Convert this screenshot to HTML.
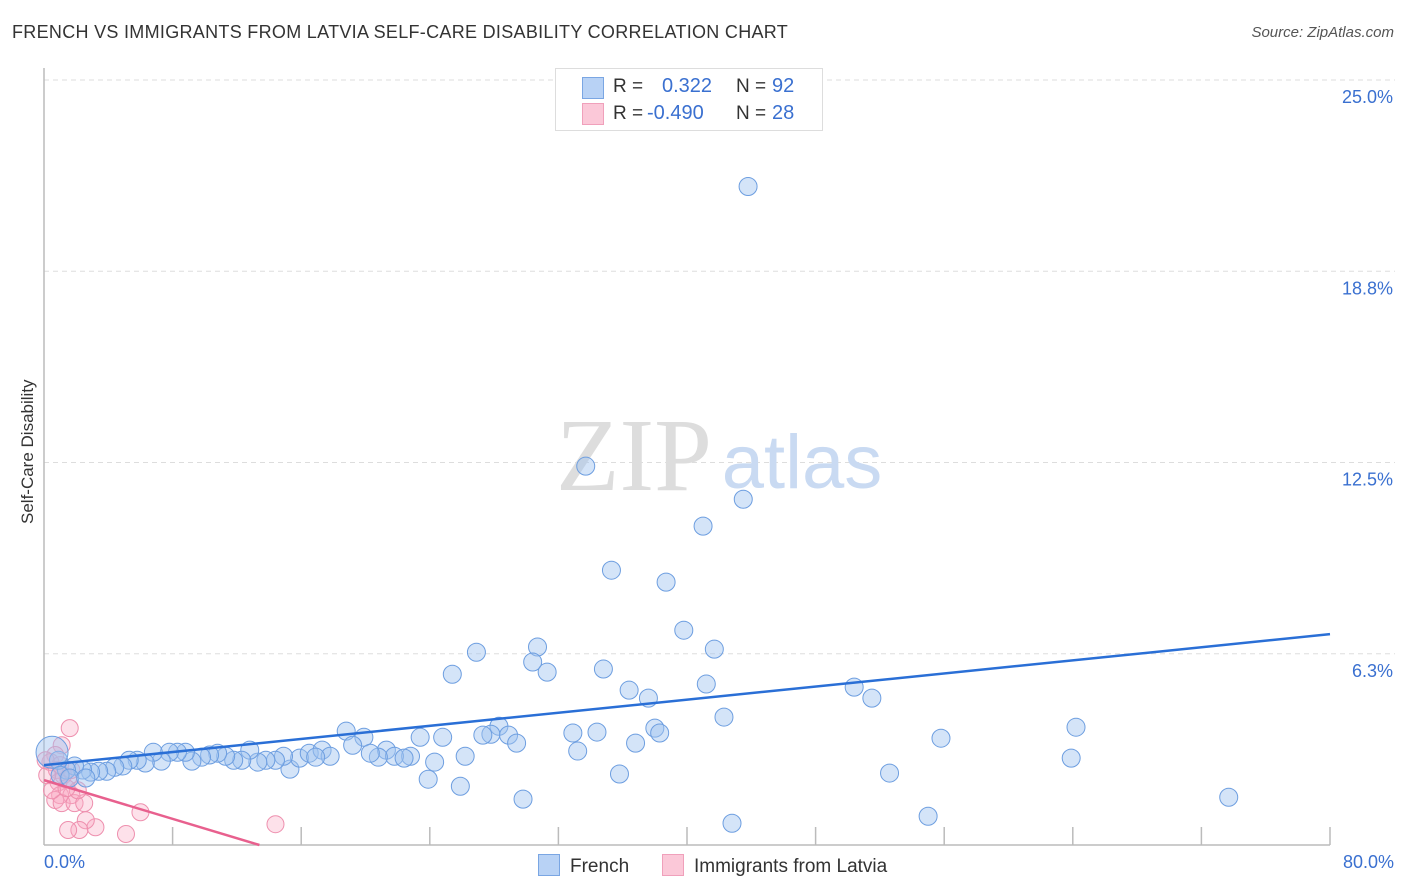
<!DOCTYPE html>
<html><head><meta charset="utf-8">
<style>
body{margin:0;background:#fff;font-family:"Liberation Sans",sans-serif;}
#wrap{position:relative;width:1406px;height:892px;overflow:hidden;}
.t{position:absolute;white-space:nowrap;}
</style></head>
<body><div id="wrap">
<div class="t" style="left:12px;top:22px;font-size:18px;color:#333;letter-spacing:0.3px;">FRENCH VS IMMIGRANTS FROM LATVIA SELF-CARE DISABILITY CORRELATION CHART</div>
<div class="t" style="right:12px;top:24px;font-size:15px;color:#555;font-style:italic;">Source: ZipAtlas.com</div>
<svg id="svg" width="1406" height="892" style="position:absolute;left:0;top:0"></svg>
</div>
<script>
const yTicks=[25,18.75,12.5,6.25];
const yTickLabels=["25.0%","18.8%","12.5%","6.3%"];
const xTickVals=[8,16,24,32,40,48,56,64,72,80];
const frenchX=[43.8,33.7,43.5,41.0,35.3,38.7,39.8,30.7,26.9,41.7,30.4,34.8,31.3,25.4,36.4,41.2,37.6,50.4,51.5,42.3,64.2,38.0,38.3,32.9,34.4,28.3,27.8,27.3,28.9,29.4,24.8,23.4,18.8,19.9,19.2,55.8,36.8,33.2,26.2,63.9,24.3,22.8,21.3,21.8,22.4,20.8,20.3,35.8,52.6,23.9,25.9,29.8,73.7,55.0,42.8,15.3,15.9,16.5,17.3,17.8,16.9,14.9,14.4,13.8,13.3,12.8,12.3,11.8,11.3,10.8,10.3,9.8,9.2,8.8,8.3,7.8,7.3,6.8,6.3,5.8,5.3,4.9,4.4,3.9,3.4,2.9,2.4,1.9,1.4,0.9,0.5,1.0,1.6,2.6];
const frenchY=[21.52,12.38,11.30,10.42,8.98,8.59,7.02,6.47,6.30,6.40,5.98,5.75,5.65,5.58,5.06,5.26,4.80,5.16,4.80,4.18,3.85,3.82,3.66,3.66,3.69,3.88,3.62,3.59,3.59,3.33,3.52,3.52,3.72,3.52,3.26,3.49,3.33,3.07,2.90,2.84,2.71,2.90,3.10,2.90,2.84,2.87,3.00,2.32,2.35,2.15,1.92,1.50,1.56,0.94,0.71,2.48,2.84,3.00,3.10,2.90,2.87,2.90,2.77,2.77,2.71,3.10,2.77,2.77,2.90,3.00,2.94,2.87,2.74,3.03,3.03,3.03,2.74,3.03,2.68,2.77,2.77,2.58,2.54,2.41,2.41,2.38,2.45,2.58,2.45,2.77,3.03,2.28,2.19,2.19];
const latviaX=[1.6,1.1,0.7,0.4,0.8,1.2,1.5,0.9,1.0,1.7,0.7,1.1,1.9,2.5,2.1,6.0,3.2,2.6,2.2,1.5,5.1,14.4,0.2,0.5,1.4,1.0,1.7,0.1];
const latviaY=[3.82,3.26,2.94,2.71,2.45,2.28,2.19,2.05,1.63,1.63,1.47,1.37,1.37,1.37,1.79,1.07,0.58,0.81,0.49,0.49,0.36,0.68,2.28,1.79,1.86,2.61,2.45,2.77];
const frenchTrend=[2.61,6.89];
const latviaTrend=[2.12,0.0];
const X0=44,X1=1330,Y0=845;
const xs=v=>X0+v*(X1-X0)/80;
const ys=v=>Y0-v*30.6;
const svg=document.getElementById('svg');
const NS='http://www.w3.org/2000/svg';
function mk(tag,attrs){const e=document.createElementNS(NS,tag);for(const k in attrs)e.setAttribute(k,attrs[k]);svg.appendChild(e);return e;}
yTicks.forEach((v,i)=>{
 const g=mk('line',{x1:X0,x2:1395,y1:ys(v),y2:ys(v),stroke:'#ddd','stroke-dasharray':'5,4'});
 
 
 const t=mk('text',{x:1393,y:ys(v)+23,'text-anchor':'end','font-size':18,fill:'#3a70d0'});
 t.textContent=yTickLabels[i];
 
 
});
const wz=mk('text',{x:634,y:490,'text-anchor':'middle','font-size':104,fill:'#ddd','font-family':'Liberation Serif'});wz.textContent='ZIP';


const wa=mk('text',{x:802,y:488,'text-anchor':'middle','font-size':76,fill:'#c9daf2'});wa.textContent='atlas';


const ax=mk('line',{x1:X0,x2:X1,y1:Y0,y2:Y0,stroke:'#bbb','stroke-width':1.5});


const ay=mk('line',{x1:X0,x2:X0,y1:68,y2:Y0,stroke:'#bbb','stroke-width':1.5});


xTickVals.forEach(v=>{const l=mk('line',{x1:xs(v),x2:xs(v),y1:Y0,y2:Y0-18,stroke:'#bbb','stroke-width':1.5});
 
 });
latviaX.forEach((v,i)=>{const c=mk('circle',{cx:xs(v),cy:ys(latviaY[i]),r:8.5,fill:'rgba(248,170,195,0.35)',stroke:'#ee8fae','stroke-width':1});
 
 });
frenchX.forEach((v,i)=>{const c=mk('circle',{cx:xs(v),cy:ys(frenchY[i]),r:i==90?16:9,fill:'rgba(160,195,240,0.45)',stroke:'#6d9ee0','stroke-width':1});
 
 });
const fl=mk('line',{x1:xs(0),y1:ys(frenchTrend[0]),x2:xs(80),y2:ys(frenchTrend[1]),stroke:'#2a6fd6','stroke-width':2.5});


const lx=13.4;
const pl=mk('line',{x1:xs(0),y1:ys(latviaTrend[0]),x2:xs(lx),y2:ys(latviaTrend[1]),stroke:'#e8608e','stroke-width':2.5});


</script>
<div class="t" style="left:-42px;top:444px;font-size:17px;color:#333;transform:rotate(-90deg);width:140px;text-align:center;">Self-Care Disability</div>
<div class="t" style="left:44px;top:852px;font-size:18px;color:#3a70d0;">0.0%</div>
<div class="t" style="right:12px;top:852px;font-size:18px;color:#3a70d0;">80.0%</div>
<div style="position:absolute;left:555px;top:68px;width:266px;height:61px;border:1px solid #ddd;background:#fff;font-size:19px;">
 <div style="position:absolute;left:26px;top:8px;width:20px;height:20px;background:#b8d2f5;border:1px solid #7aa6e3"></div>
 <div class="t" style="left:57px;top:7px;color:#333">R =</div><div class="t" style="left:106px;top:6px;color:#3a70d0;font-size:20px">0.322</div>
 <div class="t" style="left:180px;top:7px;color:#333">N =</div><div class="t" style="left:216px;top:6px;color:#3a70d0;font-size:20px">92</div>
 <div style="position:absolute;left:26px;top:34px;width:20px;height:20px;background:#fbc8d8;border:1px solid #f0a0bb"></div>
 <div class="t" style="left:57px;top:34px;color:#333">R =</div><div class="t" style="left:91px;top:33px;color:#3a70d0;font-size:20px">-0.490</div>
 <div class="t" style="left:180px;top:34px;color:#333">N =</div><div class="t" style="left:216px;top:33px;color:#3a70d0;font-size:20px">28</div>
</div>
<div style="position:absolute;left:538px;top:854px;font-size:19px;color:#333;">
 <span style="display:inline-block;width:20px;height:20px;background:#b8d2f5;border:1px solid #7aa6e3;vertical-align:-4px;margin-right:10px"></span>French</div>
<div style="position:absolute;left:662px;top:854px;font-size:19px;color:#333;">
 <span style="display:inline-block;width:20px;height:20px;background:#fbc8d8;border:1px solid #f0a0bb;vertical-align:-4px;margin-right:10px"></span>Immigrants from Latvia</div>
</body></html>
